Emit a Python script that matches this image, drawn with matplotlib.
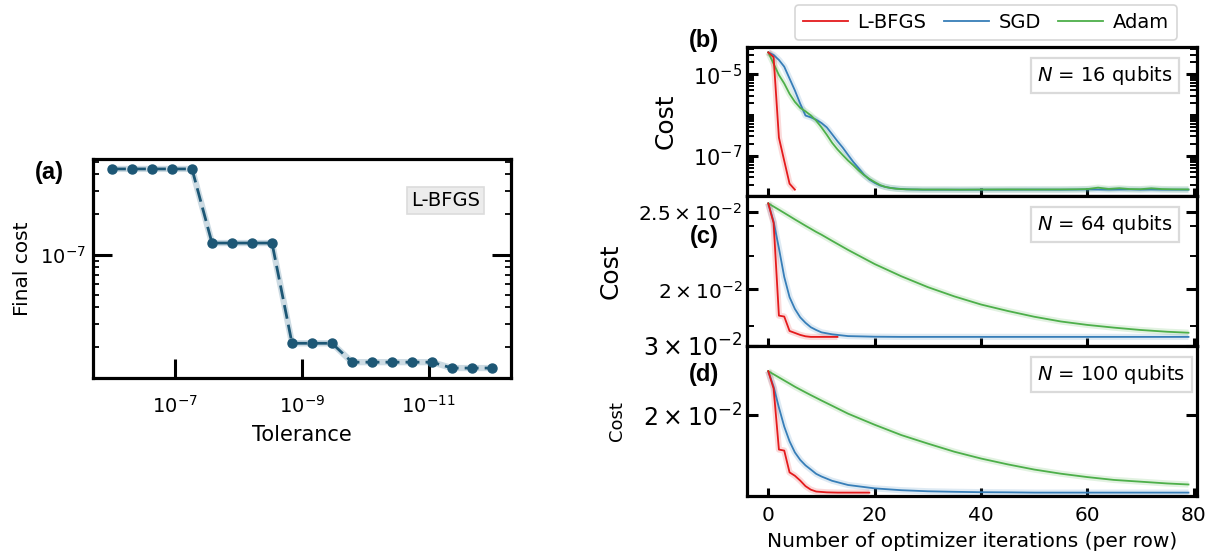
import numpy as np
import matplotlib
matplotlib.use("Agg")
import matplotlib.pyplot as plt
from matplotlib.ticker import FixedLocator, NullLocator, NullFormatter, FixedFormatter, LogLocator

# ---------------- data ----------------
# panel (a)
tolerance = [1.0e-6, 4.833e-7, 2.336e-7, 1.129e-7, 5.456e-8, 2.637e-8, 1.274e-8,
             6.158e-9, 2.976e-9, 1.438e-9, 6.952e-10, 3.360e-10, 1.624e-10,
             7.848e-11, 3.793e-11, 1.833e-11, 8.859e-12, 4.281e-12, 2.069e-12, 1.0e-12]
final_cost = [4.4e-7, 4.4e-7, 4.4e-7, 4.4e-7, 4.4e-7,
              1.22e-7, 1.22e-7, 1.22e-7, 1.22e-7,
              2.15e-8, 2.15e-8, 2.15e-8,
              1.55e-8, 1.55e-8, 1.55e-8, 1.55e-8, 1.55e-8,
              1.40e-8, 1.40e-8, 1.40e-8]

# panel (b): N = 16
b_lbfgs_x = [0, 1, 2, 3, 4, 5]
b_lbfgs = [3.4e-5, 2.6e-5, 2.8e-7, 7.6e-8, 2.1e-8, 1.5e-8]
b_x = [0, 1, 2, 3, 4, 5, 6, 7, 8, 9, 10, 11, 12, 13, 14, 15, 16, 17, 18, 19, 20,
       21, 22, 23, 24, 25, 26, 27, 28, 29, 30,
       33, 36, 40, 45, 50, 55, 58, 60, 62, 64, 66, 68, 70, 72, 74, 76, 79]
b_sgd = [3.4e-5, 2.94e-5, 2.22e-5, 1.52e-5, 7.8e-6, 4.0e-6, 1.9e-6, 9.7e-7, 8.8e-7,
         7.7e-7, 6.4e-7, 5.0e-7, 3.4e-7, 2.3e-7, 1.6e-7, 1.06e-7, 7.1e-8, 5.0e-8,
         3.5e-8, 2.65e-8, 2.2e-8, 1.9e-8, 1.75e-8, 1.65e-8, 1.6e-8, 1.56e-8, 1.53e-8,
         1.52e-8, 1.51e-8, 1.5e-8, 1.5e-8,
         1.5e-8, 1.5e-8, 1.5e-8, 1.5e-8, 1.51e-8, 1.5e-8, 1.51e-8, 1.52e-8, 1.51e-8,
         1.5e-8, 1.51e-8, 1.52e-8, 1.5e-8, 1.51e-8, 1.5e-8, 1.5e-8, 1.5e-8]
b_adam = [3.4e-5, 1.8e-5, 9.5e-6, 5.9e-6, 3.3e-6, 2.1e-6, 1.5e-6, 1.23e-6, 9.8e-7,
          7.3e-7, 5.0e-7, 3.3e-7, 2.1e-7, 1.45e-7, 1.05e-7, 7.7e-8, 5.9e-8, 4.4e-8,
          3.4e-8, 2.75e-8, 2.3e-8, 1.95e-8, 1.75e-8, 1.65e-8, 1.58e-8, 1.55e-8, 1.53e-8,
          1.52e-8, 1.52e-8, 1.51e-8, 1.51e-8,
          1.51e-8, 1.5e-8, 1.51e-8, 1.52e-8, 1.51e-8, 1.52e-8, 1.53e-8, 1.55e-8, 1.68e-8,
          1.56e-8, 1.63e-8, 1.55e-8, 1.54e-8, 1.62e-8, 1.55e-8, 1.53e-8, 1.52e-8]

# panel (c): N = 64
c_lbfgs_x = [0, 1, 2, 3, 4, 5, 6, 7, 8, 9, 10, 11, 12, 13]
c_lbfgs = [0.0256, 0.0242, 0.01855, 0.0185, 0.01775, 0.01765, 0.01755, 0.01748,
           0.01745, 0.01745, 0.01745, 0.01745, 0.01745, 0.01745]
cd_x = [0, 1, 2, 3, 4, 5, 6, 7, 8, 9, 10, 12, 15, 20, 25, 30, 35, 40, 45, 50, 55,
        60, 65, 70, 75, 79]
c_sgd = [0.0256, 0.0243, 0.02251, 0.02073, 0.01956, 0.01891, 0.01846, 0.01817,
         0.01794, 0.0178, 0.01768, 0.01758, 0.01749, 0.01746, 0.01745, 0.01745,
         0.01745, 0.01745, 0.01745, 0.01745, 0.01745, 0.01745, 0.01745, 0.01745,
         0.01745, 0.01745]
c_adam = [0.0256, 0.02537, 0.02514, 0.02491, 0.02468, 0.02445, 0.02423, 0.02401,
          0.0238, 0.02359, 0.0234, 0.02299, 0.0224, 0.02151, 0.02077, 0.02013,
          0.0196, 0.01915, 0.0188, 0.01849, 0.01824, 0.01806, 0.01792, 0.0178,
          0.01771, 0.01766]

# panel (d): N = 100
d_lbfgs_x = [0, 1, 2, 3, 4, 5, 6, 7, 8, 9, 10, 11, 12, 13, 14, 15, 16, 17, 18, 19]
d_lbfgs = [0.02587, 0.02338, 0.01633, 0.01623, 0.01428, 0.014, 0.01361, 0.01317,
           0.0129, 0.01276, 0.01273, 0.0127, 0.01269, 0.01268, 0.01268, 0.01268,
           0.01268, 0.01268, 0.01268, 0.01268]
d_sgd = [0.02587, 0.02362, 0.0209, 0.01869, 0.01714, 0.01606, 0.01537, 0.01488,
         0.01452, 0.01416, 0.01394, 0.01359, 0.01326, 0.013, 0.01286, 0.01278,
         0.01274, 0.01271, 0.0127, 0.01268, 0.01268, 0.01268, 0.01268, 0.01268,
         0.01268, 0.01268]
d_adam = [0.02587, 0.02541, 0.02495, 0.0245, 0.02406, 0.02362, 0.02323, 0.02285,
          0.02248, 0.02213, 0.02178, 0.02112, 0.02016, 0.01889, 0.01778, 0.01691,
          0.01612, 0.01549, 0.01497, 0.01452, 0.01417, 0.01389, 0.01366, 0.01352,
          0.01338, 0.0133]

labels = ["L-BFGS", "SGD", "Adam"]
x_ticks = [0, 20, 40, 60, 80]

# ---------------- style ----------------
RED, BLUE, GREEN = "#e41a1c", "#377eb8", "#4daf4a"
DARK = "#1d5775"
W, H = 1216, 558
fig = plt.figure(figsize=(W / 100, H / 100), dpi=100)


def rect(l, t, r, b):
    return [l / W, 1 - b / H, (r - l) / W, (b - t) / H]


SPW = 2.3

# ---------------- panel (a) ----------------
axa = fig.add_axes(rect(93, 159, 511, 378))
axa.plot(tolerance, final_cost, color="#cddbe3", lw=4.5, solid_capstyle="round", zorder=1)
axa.plot(tolerance, final_cost, color=DARK, lw=2, ls=(0, (5, 2.2)), marker="o",
         ms=6.5, zorder=2)
axa.set_xscale("log")
axa.set_yscale("log")
axa.invert_xaxis()
axa.xaxis.set_major_locator(FixedLocator([1e-7, 1e-9, 1e-11]))
axa.xaxis.set_minor_locator(NullLocator())
axa.yaxis.set_major_locator(FixedLocator([1e-7]))
axa.yaxis.set_minor_locator(LogLocator(base=10, subs=np.arange(2, 10), numticks=50))
axa.yaxis.set_minor_formatter(NullFormatter())
for s in axa.spines.values():
    s.set_linewidth(SPW)
axa.tick_params(axis="x", which="major", direction="in", length=14, width=2.2,
                labelsize=14, pad=12, bottom=True, top=False)
axa.tick_params(axis="y", which="major", direction="in", length=14, width=2.2,
                labelsize=14, left=True, right=True, pad=5)
axa.tick_params(axis="y", which="minor", direction="in", length=4, width=1.3,
                left=True, right=True)
axa.set_xlabel("Tolerance", fontsize=15, labelpad=6)
axa.set_ylabel("Final cost", fontsize=14.5, labelpad=6)
axa.text(0.925, 0.81, "L-BFGS", transform=axa.transAxes, ha="right", va="center",
         fontsize=14,
         bbox=dict(boxstyle="square,pad=0.2", fc="#ececec", ec="#dcdcdc", lw=1.2))
fig.text(49 / W, 1 - 173 / H, "(a)", fontsize=17, fontweight="bold",
         family="Liberation Sans", ha="center", va="center")

# ---------------- panels (b)-(d) ----------------
axb = fig.add_axes(rect(747, 47, 1197, 196))
axc = fig.add_axes(rect(747, 196, 1197, 346), sharex=axb)
axd = fig.add_axes(rect(747, 346, 1197, 496), sharex=axb)


def draw(ax, xl, yl, xs, ys, xa, ya):
    for (x, y, c) in [(xa, ya, GREEN), (xs, ys, BLUE), (xl, yl, RED)]:
        ax.plot(x, y, color=c, lw=4.5, alpha=0.16, solid_capstyle="butt")
    lb, = ax.plot(xs, ys, color=BLUE, lw=1.3)
    lc, = ax.plot(xa, ya, color=GREEN, lw=1.3)
    la, = ax.plot(xl, yl, color=RED, lw=1.3)
    return la, lb, lc


handles = draw(axb, b_lbfgs_x, b_lbfgs, b_x, b_sgd, b_x, b_adam)
draw(axc, c_lbfgs_x, c_lbfgs, cd_x, c_sgd, cd_x, c_adam)
draw(axd, d_lbfgs_x, d_lbfgs, cd_x, d_sgd, cd_x, d_adam)

for ax in (axb, axc, axd):
    ax.set_yscale("log")
    for s in ax.spines.values():
        s.set_linewidth(SPW)
    ax.xaxis.set_major_locator(FixedLocator(x_ticks))
    ax.xaxis.set_minor_locator(NullLocator())
    ax.tick_params(axis="x", which="major", direction="in", length=6, width=2.2,
                   labelsize=14.5, bottom=True, top=False, pad=7)
    ax.tick_params(axis="y", which="major", direction="in", length=8, width=2.2,
                   left=True, right=True)
    ax.tick_params(axis="y", which="minor", direction="in", length=5, width=1.4,
                   left=True, right=True)
axb.set_xlim(-4.0, 80.6)
axb.tick_params(axis="x", labelbottom=False)
axc.tick_params(axis="x", labelbottom=False)

# (b)
axb.set_ylim(1.05e-8, 4.6e-5)
axb.yaxis.set_major_locator(FixedLocator([1e-7, 1e-5]))
axb.yaxis.set_minor_locator(LogLocator(base=10, subs=np.arange(1, 10), numticks=50))
axb.yaxis.set_minor_formatter(NullFormatter())
axb.tick_params(axis="y", which="major", labelsize=15)
axb.set_ylabel("Cost", fontsize=18, labelpad=11)

# (c)
axc.set_ylim(0.0170, 0.02615)
axc.yaxis.set_major_locator(FixedLocator([0.02, 0.025]))
axc.yaxis.set_major_formatter(FixedFormatter([r"$\mathdefault{2\times10^{-2}}$",
                                              r"$\mathdefault{2.5\times10^{-2}}$"]))
axc.yaxis.set_minor_locator(FixedLocator([0.018, 0.022, 0.024]))
axc.yaxis.set_minor_formatter(NullFormatter())
axc.tick_params(axis="y", which="major", labelsize=14.5)
axc.set_ylabel("Cost", fontsize=18, labelpad=11)

# (d)
axd.set_ylim(0.01243, 0.030)
axd.yaxis.set_major_locator(FixedLocator([0.02, 0.03]))
axd.yaxis.set_major_formatter(FixedFormatter([r"$\mathdefault{2\times10^{-2}}$",
                                              r"$\mathdefault{3\times10^{-2}}$"]))
axd.yaxis.set_minor_locator(NullLocator())
axd.tick_params(axis="y", which="major", labelsize=17)
axd.set_ylabel("Cost", fontsize=13, labelpad=12)
axd.set_xlabel("Number of optimizer iterations (per row)", fontsize=14.5, labelpad=5)

for ax, txt in [(axb, r"$N$ = 16 qubits"), (axc, r"$N$ = 64 qubits"),
                (axd, r"$N$ = 100 qubits")]:
    ax.text(0.645, 0.81, txt, transform=ax.transAxes, ha="left", va="center",
            fontsize=14,
            bbox=dict(boxstyle="square,pad=0.32", fc="white", ec="#dadada", lw=1.6))

for lab, yy in [("(b)", 41), ("(c)", 236), ("(d)", 374)]:
    fig.text(704 / W, 1 - yy / H, lab, fontsize=17, fontweight="bold",
             family="Liberation Sans", ha="center", va="center")

leg = fig.legend(handles, labels, loc="center", bbox_to_anchor=(986 / W, 1 - 22.5 / H),
                 ncol=3, fontsize=14, frameon=True, handlelength=2.3,
                 columnspacing=0.9, handletextpad=0.5, borderpad=0.4)
leg.get_frame().set_edgecolor("#cccccc")
leg.get_frame().set_linewidth(1.2)

fig.savefig("out.png", dpi=100)
